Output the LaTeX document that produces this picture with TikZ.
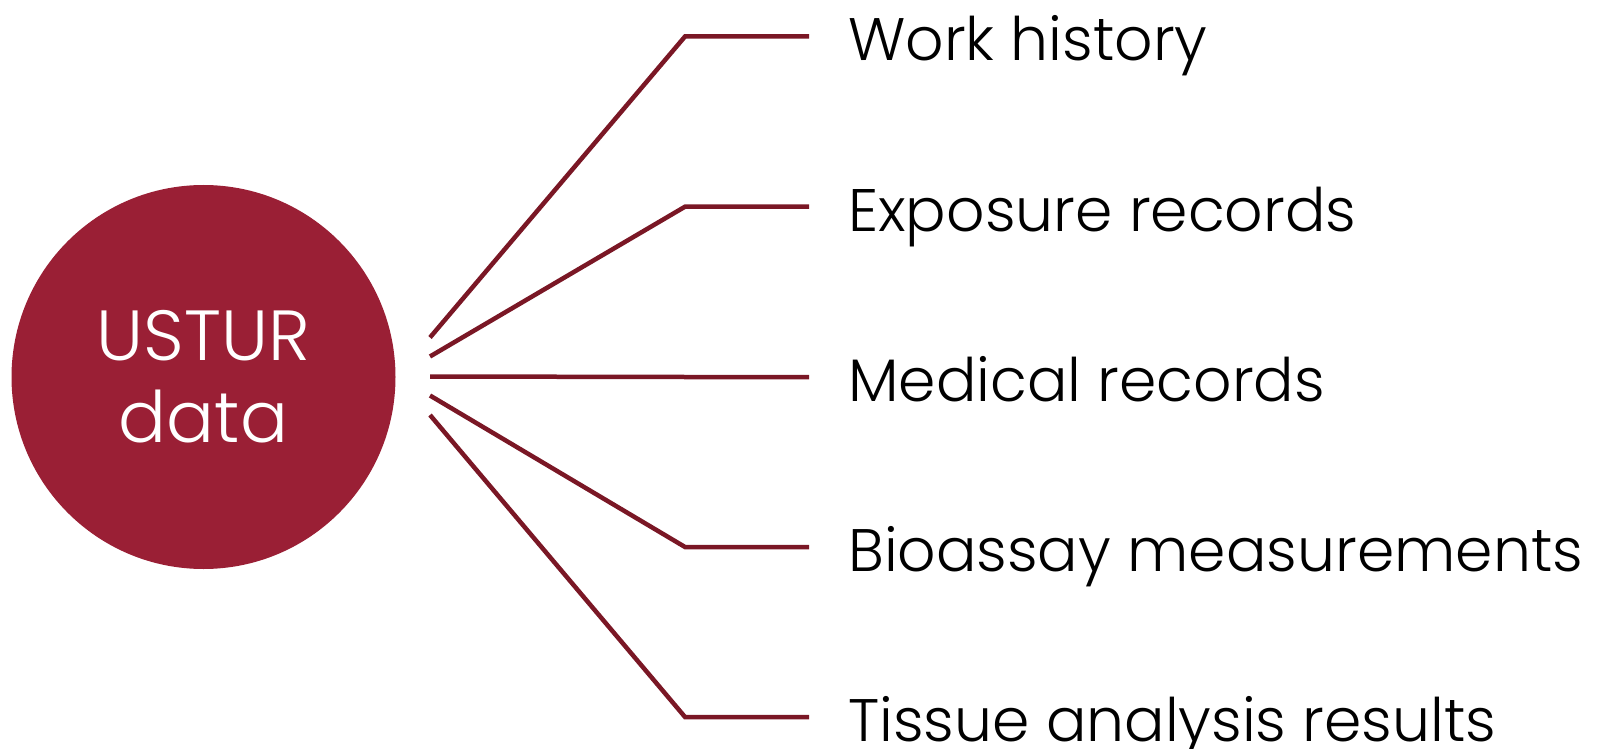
\documentclass[tikz,border=0pt]{standalone}
\usepackage{fontspec}
\setmainfont{Poppins Light}
\definecolor{hub}{RGB}{154,31,53}
\definecolor{link}{RGB}{122,23,37}
\begin{document}
\begin{tikzpicture}[x=1pt,y=-1pt,
  hubnode/.style={circle,fill=hub,draw=none,minimum size=384pt,inner sep=0pt,text=white,align=center,font=\fontsize{71}{82}\selectfont},
  lbl/.style={anchor=base west,inner sep=0pt,font=\fontsize{60}{70}\selectfont},
  conn/.style={draw=link,line width=4.5pt}]
\useasboundingbox (0,0) rectangle (1599,749);
\node[hubnode] (c) at (203.5,377) {USTUR\\data};
\foreach \i/\ly/\sy/\t in {1/36.5/337.5/Work history,2/206.7/356.5/Exposure records,3/377/376.5/Medical records,4/547/395.5/Bioassay measurements,5/717/415/Tissue analysis results}{
  \coordinate (s\i) at (430,\sy);
  \coordinate (k\i) at (685,\ly);
  \coordinate (e\i) at (809,\ly);
  \node[lbl] (l\i) at (848,\ly+24.5) {\t};
  \draw[conn] (s\i) -- (k\i) -- (e\i);
}
\end{tikzpicture}
\end{document}
